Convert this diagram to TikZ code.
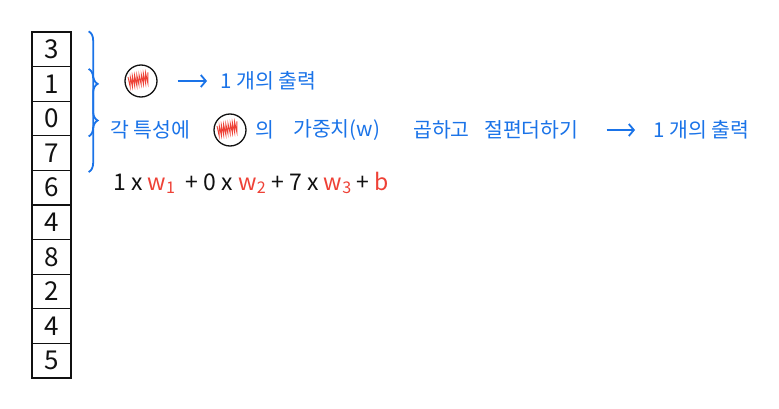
\documentclass[tikz,border=0pt]{standalone}
\usepackage{fontspec}
\setmainfont{Noto Sans CJK KR}
\usetikzlibrary{arrows.meta,positioning,calc,decorations.pathreplacing}
\definecolor{Ink}{HTML}{111111}
\definecolor{Pen}{HTML}{1A73E8}
\definecolor{Scribble}{HTML}{EE4136}
\tikzset{
  cellbox/.style={draw=Ink,line width=1.3pt,minimum width=39pt,minimum height=34.6pt,inner sep=0pt,font=\fontsize{26}{27}\selectfont,text=Ink},
  dot/.style={circle,draw=Ink,line width=1.3pt,minimum size=32pt,inner sep=0pt,
    path picture={\draw[Scribble,line width=0.9pt] ($(path picture bounding box.center)+(-13pt,4pt)$)
      foreach \k in {1,...,9}{ -- ++(2.2pt,-10pt) -- ++(0pt,10.5pt)};}},
  note/.style={text=Pen,font=\fontsize{20.5}{22}\selectfont,inner sep=0pt,anchor=west},
  penline/.style={-{Straight Barb[length=5pt,width=12pt]},draw=Pen,line width=1.8pt},
  bracket/.style={draw=Pen,line width=1.8pt,decorate,decoration={brace,amplitude=9pt}}
}
\begin{document}
\begin{tikzpicture}[x=1pt,y=-1pt]
  \useasboundingbox (0,0) rectangle (779,409);
  % input column
  \foreach \v [count=\i] in {3,1,0,7,6,4,8,2,4,5}
    \node[cellbox] (c\i) at (51.5,{49.3+(\i-1)*34.6}) {\v};
  % two sliding braces
  \draw[bracket] ([xshift=17pt]c1.north east) -- ([xshift=17pt]c3.south east);
  \draw[bracket] ([xshift=17pt,yshift=-3pt]c2.north east) -- ([xshift=17pt,yshift=-1pt]c4.south east);
  % first line
  \node[dot] (dot1) at (141,81) {};
  \node[note] (out1) at (220,81) {1 개의 출력};
  \draw[penline,shorten <=20pt,shorten >=13pt] (dot1) -- (out1);
  % second line
  \node[note] (feat) at (110,130) {각 특성에};
  \node[dot] (dot2) at (230,130) {};
  \node[note] (of) at (255,130) {의};
  \node[note] (wt) at (293,130) {가중치(w)};
  \node[note] (mul) at (413,130) {곱하고};
  \node[note] (bias) at (484,130) {절편더하기};
  \node[note] (out2) at (653,130) {1 개의 출력};
  \draw[penline,shorten <=28pt,shorten >=18pt] (bias.east) -- (out2.west);
  % equation
  \node[inner sep=0pt,anchor=west,text=Ink,font=\fontsize{23}{24}\selectfont] (eq) at (113,183)
    {1 x \textcolor{Scribble}{w\textsubscript{1}} \ + 0 x \textcolor{Scribble}{w\textsubscript{2}} + 7 x \textcolor{Scribble}{w\textsubscript{3}} + \textcolor{Scribble}{b}};
\end{tikzpicture}
\end{document}
